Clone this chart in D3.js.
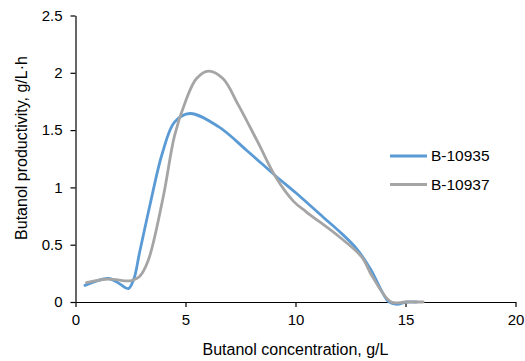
<!DOCTYPE html>
<html><head><meta charset="utf-8">
<script src="https://cdn.jsdelivr.net/npm/d3@7"></script>
<style>body{margin:0;background:#fff}svg{display:block}text{font-family:"Liberation Sans",Arial,sans-serif;fill:#000}</style>
</head><body>
<svg id="c" width="525" height="361"></svg>
<script>
const seriesNames = ["B-10935", "B-10937"];
const blueX = [0.43, 1.5, 2.0, 2.4, 2.65, 2.9, 3.4, 3.95, 4.5, 5.2, 6.5, 7.8, 9.1, 10.0, 11.26, 12.0, 12.8, 13.4, 14.25, 14.6, 15.05, 15.5];
const blueY = [0.145, 0.205, 0.16, 0.117, 0.2, 0.42, 0.86, 1.3, 1.57, 1.645, 1.53, 1.32, 1.1, 0.955, 0.74, 0.615, 0.46, 0.29, 0.0, -0.02, 0.0, 0.0];
const grayX = [0.5, 1.5, 2.5, 2.9, 3.3, 4.0, 4.5, 5.0, 5.5, 6.05, 6.7, 7.4, 8.3, 9.1, 9.9, 10.5, 12.0, 13.0, 13.5, 14.35, 15.0, 15.8];
const grayY = [0.17, 0.2, 0.185, 0.22, 0.36, 0.93, 1.45, 1.75, 1.95, 2.015, 1.95, 1.72, 1.39, 1.09, 0.88, 0.785, 0.567, 0.395, 0.22, 0.0, 0.0, 0.0];
const xTicks = [0, 5, 10, 15, 20];
const yTicks = [0, 0.5, 1, 1.5, 2, 2.5];
const colors = ["#5B9BD5", "#A5A5A5"];

const svg = d3.select("#c");
const x = d3.scaleLinear().domain([0, 20]).range([75.5, 515.5]);
const y = d3.scaleLinear().domain([0, 2.5]).range([302, 15.5]);

const gx = svg.append("g").attr("transform", "translate(0,302)")
  .call(d3.axisBottom(x).tickValues(xTicks).tickSize(5).tickSizeOuter(0).tickFormat(d3.format("d")));
const gy = svg.append("g").attr("transform", "translate(75.5,0)")
  .call(d3.axisLeft(y).tickValues(yTicks).tickSize(5).tickSizeOuter(0).tickFormat(d => d));
[gx, gy].forEach(g => {
  g.selectAll("path,line").attr("stroke", "#000").attr("stroke-width", 1.2);
  g.selectAll("text").style("font-size", "15px").style("font-family", '"Liberation Sans",Arial,sans-serif');
});
gx.selectAll("text").attr("dy", "0.71em").attr("y", 12);
gy.selectAll("text").attr("x", -13);

const line = d3.line().x(d => x(d[0])).y(d => y(d[1])).curve(d3.curveCatmullRom.alpha(0.5));
const data = [d3.zip(blueX, blueY), d3.zip(grayX, grayY)];
data.forEach((s, i) => {
  svg.append("path").datum(s).attr("d", line).attr("fill", "none")
    .attr("stroke", colors[i]).attr("stroke-width", 2.8).attr("stroke-linecap", "round");
});

const leg = svg.append("g");
seriesNames.forEach((n, i) => {
  const yy = 156 + i * 28.5;
  leg.append("line").attr("x1", 390).attr("x2", 427).attr("y1", yy).attr("y2", yy)
    .attr("stroke", colors[i]).attr("stroke-width", 2.8);
  leg.append("text").attr("x", 431).attr("y", yy).attr("dy", "0.35em").style("font-size", "15.5px").text(n);
});

svg.append("text").attr("x", 295.5).attr("y", 355).attr("text-anchor", "middle").style("font-size", "16px")
  .text("Butanol concentration, g/L");
svg.append("text").attr("transform", "translate(27,148) rotate(-90)").attr("text-anchor", "middle").style("font-size", "16px")
  .text("Butanol productivity, g/L·h");
</script>
</body></html>
